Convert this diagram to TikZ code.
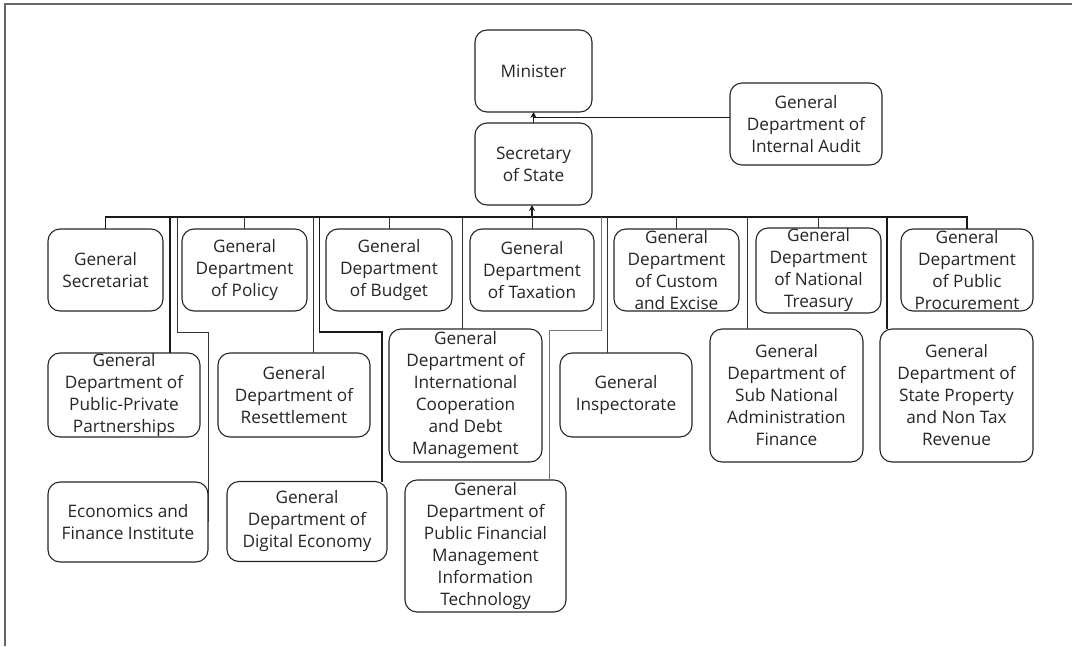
\documentclass[tikz,border=0pt]{standalone}
\usepackage{fontspec}
\setmainfont{Open Sans}
\usetikzlibrary{arrows.meta}
\newcommand\orgnode[5]{\node[orgbox, minimum width=#3pt, minimum height=#4pt, label={[lab]center:{#5}}] (#1) at #2 {};}
\begin{document}
\begin{tikzpicture}[x=1pt,y=-1pt,
  orgbox/.style={draw=black!85, line width=1.1pt, rounded corners=12pt, fill=white, inner sep=0pt, outer sep=0pt},
  lab/.style={align=center, font=\fontsize{17.2}{22}\selectfont, text=black!85, inner sep=0pt},
  bus/.style={line width=1.7pt, black!90},
  thinln/.style={line width=0.9pt, black!80},
  grayln/.style={line width=0.9pt, black!55},
  arr/.style={line width=1.2pt, black!90, -{Stealth[length=6pt,width=6pt]}},
  frame/.style={line width=1.5pt, black!60}
]
\useasboundingbox (0,0) rectangle (1072,646);
\draw[frame] (5,646) -- (5,4) -- (1072,4);

% top
\orgnode{minister}{(533.5,71)}{117}{82}{Minister}
\orgnode{sec}{(533.5,164)}{117}{82}{Secretary\\of State}
\orgnode{audit}{(806,124)}{152}{82}{General\\Department of\\Internal Audit}

% first row
\orgnode{gs}{(105.5,270)}{115}{82}{General\\Secretariat}
\orgnode{pol}{(244.5,270)}{125}{82}{General\\Department\\of Policy}
\orgnode{bud}{(389,270)}{126}{82}{General\\Department\\of Budget}
\orgnode{tax}{(532,270)}{124}{82}{General\\Department\\of Taxation}
\orgnode{cus}{(676.5,270)}{125}{82}{General\\Department\\of Custom\\and Excise}
\orgnode{tre}{(818.5,270.5)}{125}{85}{General\\Department\\of National\\Treasury}
\orgnode{pro}{(967,270)}{132}{82}{General\\Department\\of Public\\Procurement}

% second row
\orgnode{ppp}{(124,395)}{152}{84}{General\\Department of\\Public-Private\\Partnerships}
\orgnode{res}{(294,395)}{152}{84}{General\\Department of\\Resettlement}
\orgnode{icd}{(465.5,395.5)}{153}{133}{General\\Department of\\International\\Cooperation\\and Debt\\Management}
\orgnode{ins}{(626,395)}{132}{84}{General\\Inspectorate}
\orgnode{sub}{(786.5,395.5)}{153}{133}{General\\Department of\\Sub National\\Administration\\Finance}
\orgnode{spr}{(956.5,395.5)}{153}{133}{General\\Department of\\State Property\\and Non Tax\\Revenue}

% third row
\orgnode{efi}{(128,522)}{160}{80}{Economics and\\Finance Institute}
\orgnode{dig}{(307,521.5)}{160}{80}{General\\Department of\\Digital Economy}
\orgnode{pfm}{(485.5,546)}{161}{132}{General\\Department of\\Public Financial\\Management\\Information\\Technology}

% junction coordinates
\coordinate (bj) at (532,217);
\coordinate (mid) at (533.5,117.5);
\coordinate (dppp) at (170,217);
\coordinate (defi) at (177,217);
\coordinate (kefi) at (208,332);
\coordinate (dres) at (313,217);
\coordinate (ddig) at (319.5,217);
\coordinate (kdig) at (382,332);
\coordinate (dicd) at (462,217);
\coordinate (dpfm) at (601,217);
\coordinate (kpfm) at (549,330);
\coordinate (dins) at (607,217);
\coordinate (dsub) at (747,217);
\coordinate (dspr) at (887,217);

% connectors
\draw[bus] (gs.north) -- (gs.north |- bj) -- (pro.north |- bj) -- (pro.north);
\foreach \n in {pol,bud,cus,tre} {\draw[thinln] (\n.north) -- (\n.north |- bj);}
\draw[thinln] (tax.north) -- (bj);
\draw[arr] (bj) -- (bj |- sec.south);
\draw[arr] (sec.north) -- (minister.south);
\draw[bus] (audit.west |- mid) -- (mid);

\draw[bus] (dppp) -- (dppp |- ppp.north);
\draw[thinln] (defi) -- (defi |- kefi) -- (kefi) -- (efi.east);
\draw[thinln] (dres) -- (dres |- res.north);
\draw[bus] (ddig) -- (ddig |- kdig) -- (kdig) -- (kdig |- dig.north);
\draw[thinln] (dicd) -- (dicd |- icd.north);
\draw[grayln] (dpfm) -- (dpfm |- kpfm) -- (kpfm) -- (kpfm |- pfm.north);
\draw[thinln] (dins) -- (dins |- ins.north);
\draw[thinln] (dsub) -- (dsub |- sub.north);
\draw[bus] (dspr) -- (dspr |- spr.north);
\end{tikzpicture}
\end{document}
